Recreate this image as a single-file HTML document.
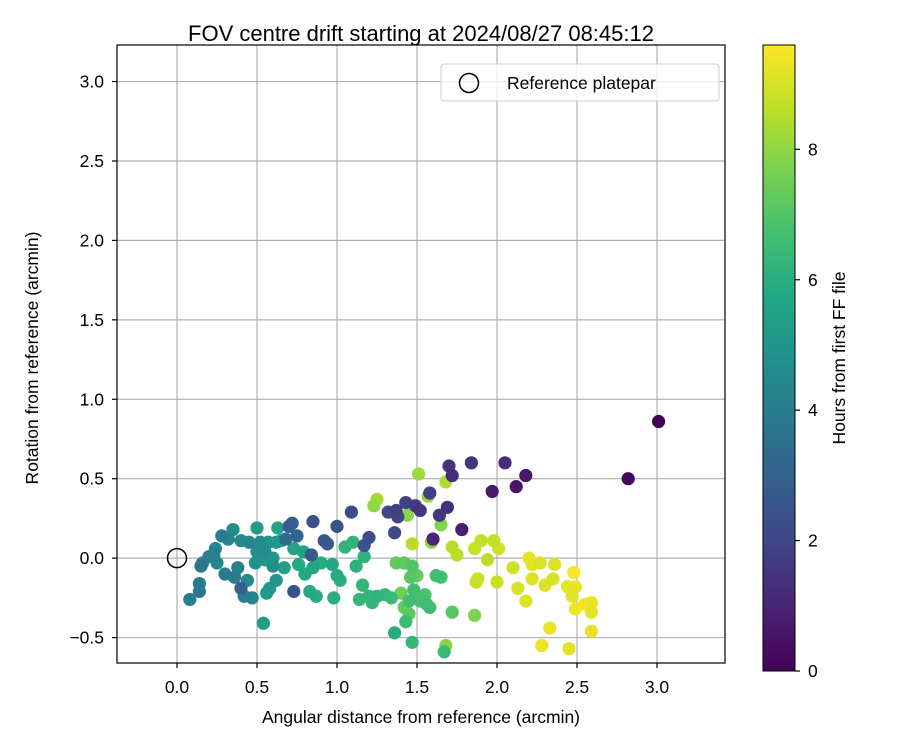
<!DOCTYPE html>
<html><head><meta charset="utf-8"><style>
html,body{margin:0;padding:0;background:#fff;}
svg{display:block;font-family:"Liberation Sans","DejaVu Sans",sans-serif;}
</style></head><body>
<svg id="chart" width="900" height="750" viewBox="0 0 900 750" xmlns="http://www.w3.org/2000/svg">
<defs>
<linearGradient id="vir" x1="0" y1="1" x2="0" y2="0">
<stop offset="0" stop-color="#440154"/><stop offset="0.1" stop-color="#482475"/><stop offset="0.2" stop-color="#414487"/><stop offset="0.3" stop-color="#355f8d"/><stop offset="0.4" stop-color="#2a788e"/><stop offset="0.5" stop-color="#21918c"/><stop offset="0.6" stop-color="#22a884"/><stop offset="0.7" stop-color="#44bf70"/><stop offset="0.8" stop-color="#7ad151"/><stop offset="0.9" stop-color="#bddf26"/><stop offset="1" stop-color="#fde725"/>
</linearGradient>
<clipPath id="plotclip"><rect x="117" y="45" width="608" height="618"/></clipPath>
</defs>
<text x="421" y="41" font-size="22" text-anchor="middle">FOV centre drift starting at 2024/08/27 08:45:12</text>
<g id="grid"></g>
<g id="points" clip-path="url(#plotclip)"></g>
<rect x="117" y="45" width="608" height="618" fill="none" stroke="#000" stroke-width="1.2"/>
<g id="axes" font-size="17.5"></g>
<text x="421" y="723" font-size="17.5" text-anchor="middle">Angular distance from reference (arcmin)</text>
<text transform="translate(38,358) rotate(-90)" font-size="17.5" text-anchor="middle">Rotation from reference (arcmin)</text>
<g>
<rect x="441" y="64" width="278" height="37" rx="3" fill="#fff" fill-opacity="0.8" stroke="#ccc"/>
<circle cx="469" cy="83" r="9.5" fill="none" stroke="#000" stroke-width="1.5"/>
<text x="507" y="89" font-size="17.5">Reference platepar</text>
</g>
<rect x="763" y="45" width="32" height="626" fill="url(#vir)" stroke="#000" stroke-width="1"/>
<g id="cbticks" font-size="17.5"></g>
<text transform="translate(845,358) rotate(-90)" font-size="17.5" text-anchor="middle">Hours from first FF file</text>
</svg>
<script>
const xTicks=[0.0,0.5,1.0,1.5,2.0,2.5,3.0];
const yTicks=[-0.5,0.0,0.5,1.0,1.5,2.0,2.5,3.0];
const cTicks=[0,2,4,6,8];
const xs=[3.01,2.82,2.18,2.12,1.97,1.78,2.05,1.84,1.70,1.72,1.69,1.64,1.58,1.60,1.52,1.49,1.43,1.37,1.32,1.38,1.36,1.09,1.00,0.92,0.85,0.84,0.72,0.70,1.20,1.17,0.94,0.73,0.40,0.75,0.68,
0.08,0.14,0.14,0.15,0.16,0.20,0.23,0.24,0.28,0.32,0.35,0.30,0.36,0.38,0.42,0.44,0.47,0.25,0.40,0.45,0.52,0.55,0.50,0.49,0.55,0.60,0.62,0.57,0.50,0.60,0.58,0.56,0.62,0.54,0.63,0.65,0.67,0.73,0.79,0.76,0.80,0.85,0.83,0.87,0.90,0.97,0.98,1.00,1.02,1.05,1.10,1.12,1.14,1.16,1.17,1.20,1.22,1.25,1.30,1.34,1.36,1.43,1.45,1.47,1.48,1.50,1.52,1.56,1.58,1.55,1.62,1.65,1.67,1.72,1.42,1.47,1.50,1.46,1.42,1.45,1.40,1.37,
1.23,1.25,1.44,1.57,1.65,1.68,1.51,1.59,1.47,1.68,1.86,1.72,1.75,1.86,1.90,1.94,1.98,2.01,2.00,1.87,1.88,2.10,2.13,2.18,2.20,2.22,2.27,2.22,2.30,2.36,2.35,2.33,2.28,2.44,2.48,2.49,2.47,2.49,2.55,2.59,2.59,2.59,2.45];
const ys=[0.86,0.50,0.52,0.45,0.42,0.18,0.60,0.60,0.58,0.52,0.32,0.27,0.41,0.12,0.30,0.33,0.35,0.30,0.29,0.26,0.16,0.29,0.20,0.11,0.23,0.02,0.22,0.20,0.13,0.08,0.09,-0.21,-0.19,0.14,0.12,
-0.26,-0.21,-0.16,-0.05,-0.03,0.01,0.02,0.06,0.14,0.12,0.18,-0.10,-0.12,-0.06,-0.24,-0.14,-0.25,-0.03,0.11,0.10,0.10,0.04,0.04,-0.03,-0.01,0.00,0.10,0.10,0.19,-0.05,-0.19,-0.22,-0.14,-0.41,0.19,0.11,-0.06,0.06,0.04,-0.04,-0.10,-0.06,-0.21,-0.24,-0.03,-0.04,-0.25,-0.11,-0.14,0.07,0.10,-0.05,-0.26,-0.17,0.01,-0.24,-0.28,-0.24,-0.23,-0.25,-0.47,-0.40,-0.27,-0.53,-0.20,-0.25,-0.27,-0.29,-0.31,-0.23,-0.11,-0.12,-0.59,-0.34,-0.03,-0.05,-0.11,-0.12,-0.31,-0.35,-0.22,-0.03,
0.33,0.37,0.27,0.39,0.21,0.48,0.53,0.10,0.09,-0.55,-0.36,0.07,0.02,0.06,0.11,-0.01,0.11,0.06,-0.15,-0.15,-0.13,-0.06,-0.19,-0.27,0.00,-0.04,-0.03,-0.13,-0.17,-0.04,-0.13,-0.44,-0.55,-0.18,-0.09,-0.18,-0.24,-0.32,-0.29,-0.28,-0.34,-0.46,-0.57];
const hours=[0,0.2,0.6,0.6,0.7,0.8,1.2,1.4,1.4,1.2,1.3,1.5,1.8,1.0,1.4,1.6,1.8,1.7,2.0,2.0,2.1,2.2,2.4,2.6,2.3,2.7,2.9,2.8,2.2,2.4,2.7,2.5,3.0,3.1,3.3,
4.0,3.9,3.9,3.8,4.0,4.1,4.2,4.3,4.0,4.3,4.6,4.0,3.9,4.1,4.2,4.5,4.3,4.4,4.5,4.4,4.6,4.7,4.6,4.8,5.0,5.0,5.1,5.0,5.2,4.8,5.1,5.2,5.0,5.3,5.6,5.3,5.4,5.5,5.6,5.8,5.7,5.6,5.8,5.9,5.9,5.7,6.0,5.9,6.0,6.2,6.2,6.1,6.3,6.3,6.1,6.3,6.3,6.2,6.4,6.5,6.0,6.5,6.6,6.3,6.7,6.7,6.7,6.6,6.6,6.8,6.6,6.7,6.5,7.0,7.2,7.0,7.3,7.1,7.3,7.2,7.5,7.3,
8.0,8.3,7.9,8.0,7.8,8.4,8.2,7.9,8.6,7.9,7.7,8.6,8.6,8.8,8.7,8.6,8.7,8.9,8.8,8.8,8.8,8.9,9.0,9.1,9.2,9.2,9.1,9.1,9.1,9.1,9.0,9.3,9.3,9.2,9.5,9.3,9.2,9.4,9.4,9.3,9.2,9.2,9.2];
const X0=-0.375,X1=3.425,Y0=-0.66,Y1=3.23,CMAX=9.6;
const L=117,R=725,T=45,B=663;
const sx=v=>L+(v-X0)/(X1-X0)*(R-L);
const sy=v=>B-(v-Y0)/(Y1-Y0)*(B-T);
const sc=v=>671-v/CMAX*626;
const NS="http://www.w3.org/2000/svg";
const vir=["#440154","#482475","#414487","#355f8d","#2a788e","#21918c","#22a884","#44bf70","#7ad151","#bddf26","#fde725"];
function hex(h){return [1,3,5].map(i=>parseInt(h.substr(i,2),16));}
function color(v){let t=Math.max(0,Math.min(1,v/CMAX))*10;let i=Math.min(9,Math.floor(t)),f=t-i;let a=hex(vir[i]),b=hex(vir[i+1]);return "rgb("+a.map((c,k)=>Math.round(c+(b[k]-c)*f)).join(",")+")";}
function mk(tag,attrs,parent){const e=document.createElementNS(NS,tag);for(const k in attrs)e.setAttribute(k,attrs[k]);parent.appendChild(e);return e;}
const grid=document.getElementById('grid'),axes=document.getElementById('axes'),pts=document.getElementById('points'),cb=document.getElementById('cbticks');
xTicks.forEach(v=>{const x=sx(v);
const g=mk('line',{x1:x,x2:x,y1:T,y2:B,stroke:'#b0b0b0','stroke-width':1.2},grid);


const t=mk('line',{x1:x,x2:x,y1:B,y2:B+5,stroke:'#000','stroke-width':1.2},axes);


const l=mk('text',{x:x,y:B+30,'text-anchor':'middle'},axes);l.textContent=v.toFixed(1);

});
yTicks.forEach(v=>{const y=sy(v);
const g=mk('line',{x1:L,x2:R,y1:y,y2:y,stroke:'#b0b0b0','stroke-width':1.2},grid);


const t=mk('line',{x1:L-5,x2:L,y1:y,y2:y,stroke:'#000','stroke-width':1.2},axes);


const l=mk('text',{x:L-13,y:y+6,'text-anchor':'end'},axes);l.textContent=(v<0?"\u2212":"")+Math.abs(v).toFixed(1);

});
cTicks.forEach(v=>{const y=sc(v);
const t=mk('line',{x1:795,x2:800,y1:y,y2:y,stroke:'#000','stroke-width':1.2},cb);


const l=mk('text',{x:808,y:y+6},cb);l.textContent=String(v);

});
const ref=mk('circle',{cx:sx(0),cy:sy(0),r:9.5,fill:'none',stroke:'#000','stroke-width':1.5},pts);


const idx=xs.map((_,i)=>i).sort((a,b)=>hours[b]-hours[a]);
idx.forEach(i=>{const c=mk('circle',{cx:sx(xs[i]),cy:sy(ys[i]),r:6.6,fill:color(hours[i])},pts);

});
</script>
</body></html>
